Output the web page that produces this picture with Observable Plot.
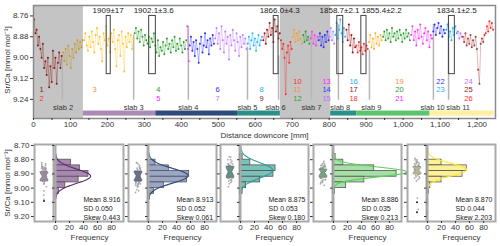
<!DOCTYPE html>
<html><head><meta charset="utf-8">
<script src="https://cdn.jsdelivr.net/npm/d3@7"></script>
<script src="https://cdn.jsdelivr.net/npm/@observablehq/plot@0.6"></script>
<style>
body{margin:0;background:#fff;font-family:"Liberation Sans",Arial,sans-serif;}
#wrap{position:relative;width:500px;height:246px;overflow:hidden;}
#wrap > *{position:absolute;}
svg{overflow:visible;}
.ylab{font-size:8px;color:#333;transform:rotate(-90deg);transform-origin:center;white-space:nowrap;text-align:center;width:120px;}
</style></head><body><div id="wrap"></div><script>
// ---------- top panel data: Sr/Ca series (mmol/mol) ----------
const seriesStart = [0,78,135,272,415,421,490,578,620,668,700,728,748,770,800,815,845,872,906,944,1020,1080,1115,1147,1160,1222];
const seriesEnd   = [78,135,272,415,421,490,578,620,668,700,728,748,770,800,815,845,872,906,944,1020,1080,1115,1147,1160,1222,1245];
const seriesColor = ["#8b1a1a","#c89b2a","#ffc125","#2ca02c","#ff33ff","#2b2bff","#c07aff","#22b4ff","#9b1111","#ff2a2a","#f0a030","#2ca02c","#ff33ff","#2b2bff","#c07aff","#22b4ff","#9b1111","#ff2a2a","#ffb030","#2ca02c","#ff33ff","#2b2bff","#22b4ff","#c07aff","#a83a3a","#ff2a2a"];
const s01 = [8.78,8.86,8.84,8.93,8.88,8.95,9.00,8.92,9.06,9.02,9.10,9.00,9.17,9.05,9.14,8.96,9.06,9.00,9.15,9.03,8.97,9.06,8.99];
const s02 = [8.97,9.02,8.95,9.04,8.93,8.99,9.06,8.95,9.00,8.92,8.97,8.90,8.95,8.91,8.94,8.90];
const s03 = [8.90,8.86,8.93,8.96,8.88,8.94,8.85,8.91,8.97,8.87,8.83,8.92,8.88,8.95,9.02,8.86,8.90,8.82,8.93,8.89,8.97,8.86,8.91,8.84,8.95,9.05,8.90,8.87,8.99,8.85,8.92,9.08,8.88,8.94,8.86,8.91,8.87,8.95,8.89];
const s04 = [8.86,8.83,8.89,8.85,8.91,8.84,8.88,8.93,8.87,8.90,8.92,8.88,8.94,8.89,8.91,8.86,8.93,8.97,8.90,8.99,8.94,8.96,8.91,8.98,8.93,8.89,8.95,8.92,8.97,8.90,8.94,8.88,8.96,8.92,8.95,8.89,8.93,8.97,8.91,8.95,8.90];
const s05 = [8.82,8.95,9.02];
const s06 = [8.93,8.88,8.96,8.91,8.99,8.90,8.95,9.03,8.92,8.88,8.97,8.93,8.86,8.94,8.90,8.98,8.89,8.93,8.87,8.92];
const s07 = [8.89,8.83,8.92,8.86,8.95,8.82,8.90,8.97,8.85,8.92,8.88,9.01,8.87,8.93,8.84,8.90,8.96,8.86,8.91,8.99,8.88,8.94,8.87,8.92,8.89,8.95];
const s08 = [8.92,8.88,8.95,8.90,8.86,8.93,8.89,8.96,8.91,8.87,8.93,8.90,8.88];
const s09 = [8.90,8.86,8.92,8.84,8.88,8.80,8.87,8.83,8.91,8.78,8.85,8.82,8.89,8.86];
const s10 = [8.90,8.95,8.92,9.00,9.21,8.97,8.93,9.03,8.91,8.95];
const s11 = [8.88,8.84,8.91,8.86,8.90,8.85,8.89,8.92];
const s12 = [8.87,8.91,8.85,8.90,8.88,8.92];
const s13 = [8.89,8.85,8.92,8.87,8.93,8.88];
const s14 = [8.90,8.86,8.93,8.88,8.94,8.87,8.91,8.85,8.90];
const s15 = [8.88,8.83,8.90,8.85,8.92];
const s16 = [8.87,8.80,8.89,8.84,8.78,8.86,8.91,8.83,8.88];
const s17 = [8.84,8.90,8.81,8.93,8.87,8.97,8.89,8.94];
const s18 = [8.93,8.97,8.91,8.96,8.94,8.98,8.92,8.96,8.93,8.95];
const s19 = [8.91,8.87,8.94,8.89,8.95,8.86,8.92,8.88,8.93,8.87,8.90];
const s20 = [8.88,8.85,8.90,8.84,8.89,8.86,8.91,8.83,8.88,8.86,8.90,8.85,8.89,8.84,8.87,8.91,8.86,8.89,8.84,8.88,8.86,8.90];
const s21 = [8.87,8.82,8.90,8.85,8.93,8.84,8.89,8.81,8.88,8.92,8.86,8.83,8.90,8.85,8.94,8.87,8.89];
const s22 = [8.85,8.81,8.87,8.83,8.80,8.86,8.82,8.88,8.84,8.86];
const s23 = [8.84,8.81,8.88,8.85,8.90,8.83,8.87,8.82,8.86];
const s24 = [8.85,8.89,8.86,8.88];
const s25 = [8.88,8.91,8.86,8.93,8.89,8.92,8.87,8.94,8.90,8.93,8.88,8.95,9.07,9.15,8.92,8.89,8.91,8.87];
const s26 = [8.86,8.82,8.85,8.79,8.83,8.80,8.84];
const seriesValues = [s01,s02,s03,s04,s05,s06,s07,s08,s09,s10,s11,s12,s13,s14,s15,s16,s17,s18,s19,s20,s21,s22,s23,s24,s25,s26];

// series number labels
const numText  = ["1","2","3","4","5","6","7","8","9","10","11","12","13","14","15","16","17","18","19","20","21","22","23","24","25","26"];
const numColor = ["#8b1a1a","#ff3030","#ff8c40","#2ca02c","#ff20ff","#3030ff","#c070ff","#20b0ff","#8b1a1a","#ff3030","#ff8c40","#2ca02c","#ff20ff","#3030ff","#c070ff","#20b0ff","#8b1a1a","#ff3030","#ff8c40","#2ca02c","#ff20ff","#3030ff","#20b0ff","#c070ff","#8b1a1a","#ff3030"];
const numX   = [22,22,165,338,338,498,498,617,617,714,714,714,793,793,793,866,866,866,990,990,990,1101,1101,1177,1177,1177];
const numRow = [1,2,1,1,2,1,2,1,2,0,1,2,0,1,2,0,1,2,0,1,2,0,1,0,1,2];
const rowY = [9.137,9.186,9.236];

// slabs
const slabName  = ["slab 2","slab 3","slab 4","slab 5","slab 6","slab 7","slab 8","slab 9","slab 10","slab 11"];
const slabX     = [78,271,419,579,663,752,825,909,1082,1123];
const slabLabX  = [80,271,419,579,655,752,830,914,1080,1149];
const slabTop   = [9.00,8.87,8.82,8.94,8.99,8.86,8.81,8.96,8.81,8.80];

// dated intervals
const ageLabel = ["1909±17","1902.1±3.6","1866.0±4.3","1858.7±2.1","1855.4±2.2","1834.1±2.5"];
const ageX1 = [198,313,650,822,887,1124];
const ageX2 = [209,331,663,838,901,1140];
const ageLabX = [202,325,666,828,942,1145];

// shaded & coloured bands
const grayX1 = [0,668], grayX2 = [135,804];
const barX1 = [135,331,552,804,875,1073];
const barX2 = [331,552,668,875,1073,1247];
const barGroup = [0,1,2,2,3,4];
const groupBarColor = ["#a98bb6","#2f4b7c","#2a9188","#5bc56b","#fdf0a0"];

// ---------- bottom panels ----------
const histFill  = ["#9e7baa","#8f9cc0","#6bbab3","#9edc9e","#fdf08c"];
const curveColor= ["#5b2a6b","#2d4a85","#2a9d94","#5ad25a","#ffea30"];
const binWidth = 0.04;
const histStart = [8.80,8.80,8.76,8.76,8.80];
const h1 = [22,35,47,33,14,5,1];
const h2 = [10,29,58,55,22,8,2];
const h3 = [3,14,50,47,28,8,3];
const h4 = [3,14,58,90,44,18,2];
const h5 = [20,56,50,20,4,2,0,1,0,1];
const histCounts = [h1,h2,h3,h4,h5];
const statMean = [8.916,8.913,8.875,8.886,8.870];
const statSD   = [0.050,0.052,0.053,0.035,0.044];
const statSkew = ["0.443","0.061","0.180","0.213","2.203"];
const boxQ1  = [8.885,8.880,8.845,8.865,8.848];
const boxMed = [8.915,8.915,8.885,8.890,8.872];
const boxQ3  = [8.950,8.950,8.925,8.923,8.900];
const outlierVals = [[9.09],[],[],[],[9.10,9.17]];
const boxLeft  = [34,128,220,313,407];
const histLeft = [55,148,240,333,427];

// ---------- build ----------
const wrap = document.getElementById("wrap");
const font = {fontFamily:'"Liberation Sans",Arial,sans-serif', fontSize:"8px", background:"transparent", color:"#333"};

const points = [];
seriesValues.forEach((vals,k)=>{
  const step = (seriesEnd[k]-seriesStart[k])/vals.length;
  vals.forEach((v,i)=>points.push({series:k, x:seriesStart[k]+(i+0.5)*step, y:v, color:seriesColor[k]}));
});
const nums = numText.map((t,i)=>({t, x:numX[i], y:rowY[numRow[i]], c:numColor[i]}));
const slabs = slabName.map((n,i)=>({n, x:slabX[i], lx:slabLabX[i], top:slabTop[i]}));
const ages = ageLabel.map((l,i)=>({l, x1:ageX1[i], x2:ageX2[i], lx:ageLabX[i]}));
const grays = grayX1.map((d,i)=>({x1:d, x2:grayX2[i]}));
const bars = barX1.map((d,i)=>({x1:d, x2:barX2[i], c:groupBarColor[barGroup[i]]}));

const topPlot = Plot.plot({
  width:500, height:140, marginLeft:33, marginRight:5, marginTop:5, marginBottom:22,
  style:font,
  x:{domain:[0,1250]},
  y:{domain:[8.70,9.35], reverse:true},
  marks:[
    Plot.rect(grays,{x1:"x1",x2:"x2",fill:"#c4c4c4"}),
    Plot.rect(bars,{x1:"x1",x2:"x2",y1:9.307,y2:9.336,fill:"c"}),
    Plot.ruleX(slabs,{x:"x",y1:"top",y2:9.245,stroke:"#b5b5b5",strokeWidth:1.5}),
    Plot.line(points,{x:"x",y:"y",z:"series",stroke:"color",strokeOpacity:0.45,strokeWidth:0.8}),
    Plot.dot(points,{x:"x",y:"y",fill:"color",r:1}),
    Plot.rect(ages,{x1:"x1",x2:"x2",y1:8.76,y2:9.095,stroke:"#444",fill:"none",strokeWidth:1}),
    Plot.text(ages,{x:"lx",y:8.726,text:"l",fontSize:8,fill:"#222"}),
    Plot.text(slabs,{x:"lx",y:9.29,text:"n",fill:"#333",fontSize:7.5}),
    Plot.text(nums,{x:"x",y:"y",text:"t",fill:"c",fontSize:7.5}),
    Plot.frame({stroke:"#8a8a8a",strokeWidth:1.5}),
    Plot.axisX({ticks:d3.range(0,1201,100),tickSize:2,tickPadding:1,label:"Distance downcore [mm]",labelAnchor:"center",labelArrow:"none",labelOffset:19}),
    Plot.axisX({ticks:d3.range(50,1250,100),tickSize:2,tickFormat:()=>"",label:null}),
    Plot.axisY({ticks:[8.76,8.88,9.00,9.12,9.24],tickFormat:".2f",tickSize:3,tickPadding:2,label:null})
  ]
});
topPlot.style.left="0px"; topPlot.style.top="0px";
wrap.appendChild(topPlot);

function addLabel(text, cx, cy){
  const d=document.createElement("div"); d.className="ylab"; d.textContent=text;
  d.style.left=(cx-60)+"px"; d.style.top=(cy-5)+"px"; d.style.height="10px"; d.style.lineHeight="10px";
  wrap.appendChild(d);
}
addLabel("Sr/Ca [mmol mol⁻¹]", 8, 60);
addLabel("Sr/Ca [mmol mol⁻¹]", 8, 183);

const yB = {domain:[8.693,9.235], reverse:true};
const yTicks = [8.7,8.8,8.9,9.0,9.1,9.2];
const groupOf = x => { for (let i=0;i<barX1.length;i++) if (x>=barX1[i] && x<barX2[i]) return barGroup[i]; return -1; };

for (let g=0; g<5; g++){
  // box panel
  const strip = points.filter(p=>groupOf(p.x)===g).map((p,i)=>({y:p.y, x:0.5+((((i*37)%17)/16)-0.5)*0.26}));
  const q1=boxQ1[g], md=boxMed[g], q3=boxQ3[g], nh=(q3-q1)*0.35;
  const notch = [[0.3,q1],[0.7,q1],[0.7,md-nh],[0.58,md],[0.7,md+nh],[0.7,q3],[0.3,q3],[0.3,md+nh],[0.42,md],[0.3,md-nh],[0.3,q1]].map(([x,y])=>({x,y}));
  const ml = g===0 ? 34 : 4;
  const bp = Plot.plot({
    width:ml+19+1, height:106, marginLeft:ml, marginRight:1, marginTop:4, marginBottom:25,
    style:font, x:{domain:[0,1],axis:null}, y:yB,
    marks:[
      Plot.axisY({ticks:yTicks,tickFormat:g===0?".2f":()=>"",tickSize:3,tickPadding:2,label:null}),
      Plot.dot(strip,{x:"x",y:"y",r:0.9,fill:"#9a9a9a",fillOpacity:0.8}),
      Plot.line(notch,{x:"x",y:"y",fill:"#8c8c8c",stroke:"#6a6a6a",strokeWidth:0.6}),
      Plot.line(notch,{x:"x",y:"y",fill:groupBarColor[g],fillOpacity:0.4,stroke:"none"}),
      Plot.dot(outlierVals[g],{x:()=>0.5,y:d=>d,r:1,fill:"#222"}),
      Plot.frame({stroke:"#aaa",strokeWidth:2})
    ]
  });
  bp.style.left=(boxLeft[g]-ml)+"px"; bp.style.top="140px";
  wrap.appendChild(bp);

  // histogram panel
  const bins = histCounts[g].map((c,i)=>({lo:histStart[g]+i*binWidth, hi:histStart[g]+(i+1)*binWidth, c}));
  const n = d3.sum(histCounts[g]);
  const curve = d3.range(-3.2,3.21,0.1).map(z=>({v:statMean[g]+z*statSD[g], c:n*binWidth/(statSD[g]*Math.sqrt(2*Math.PI))*Math.exp(-z*z/2)}));
  const hp = Plot.plot({
    width:4+68+1, height:106, marginLeft:4, marginRight:1, marginTop:4, marginBottom:25,
    style:font, x:{domain:[0,97]}, y:yB,
    marks:[
      Plot.axisY({ticks:yTicks,tickFormat:()=>"",tickSize:3,label:null}),
      Plot.rect(bins,{x1:0,x2:"c",y1:"lo",y2:"hi",fill:histFill[g],fillOpacity:0.9,stroke:"#555",strokeWidth:0.8}),
      Plot.line(curve,{x:"c",y:"v",stroke:curveColor[g],strokeWidth:1.1}),
      Plot.text([`Mean ${statMean[g].toFixed(3)}\nSD ${statSD[g].toFixed(3)}\nSkew ${statSkew[g]}`],{frameAnchor:"bottom-left",dx:28,dy:-2,textAnchor:"start",lineAnchor:"bottom",lineHeight:1.25,fill:"#222",fontSize:7}),
      Plot.frame({stroke:"#aaa",strokeWidth:2}),
      Plot.axisX({ticks:[0,20,40,60,80],tickSize:2,tickPadding:1,label:"Frequency",labelAnchor:"center",labelArrow:"none",labelOffset:18})
    ]
  });
  hp.style.left=(histLeft[g]-4)+"px"; hp.style.top="140px";
  wrap.appendChild(hp);
}
</script></body></html>
